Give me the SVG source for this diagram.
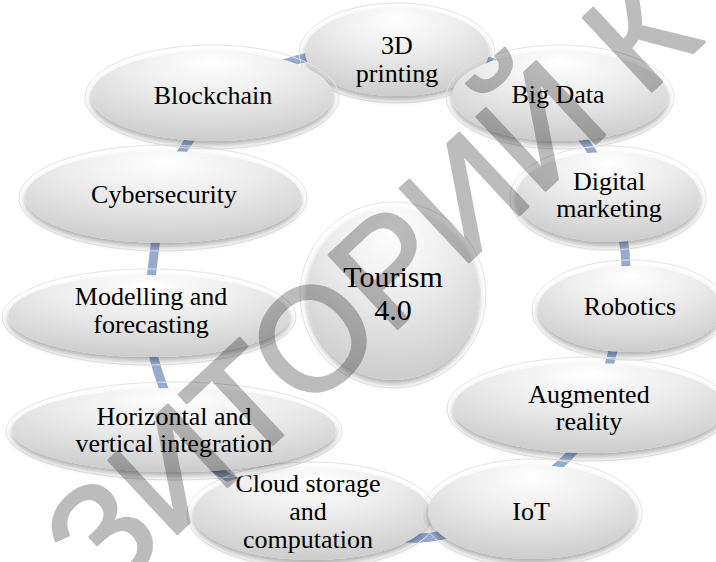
<svg xmlns="http://www.w3.org/2000/svg" width="716" height="562" viewBox="0 0 716 562">
<defs>
<radialGradient id="g" cx="50%" cy="22%" r="80%" fx="50%" fy="12%">
<stop offset="0" stop-color="#ffffff"/>
<stop offset="0.45" stop-color="#ececec"/>
<stop offset="1" stop-color="#cbcbcb"/>
</radialGradient>
<filter id="sh" x="-10%" y="-15%" width="120%" height="140%">
<feDropShadow dx="0" dy="4" stdDeviation="3" flood-color="#000" flood-opacity="0.32"/>
</filter>
</defs>
<style>
.b{fill:url(#g);filter:url(#sh)}
.h{fill:none;stroke:#e4e4e4;stroke-width:1}
.ring{fill:none;stroke:#95abd0;stroke-width:9}
</style>
<rect width="716" height="562" fill="#fff"/>
<g id="connectors">
<path class="ring" d="M296,60 C346.3,46 439.3,46.7 488,61 C536.7,75.3 565.2,114.2 588,146 C610.8,177.8 621.2,216.7 625,252 C628.8,287.3 620.8,323.5 611,358 C601.2,392.5 597.7,429 566,459 C534.3,489 477.7,535.2 421,538 C364.3,540.8 269.8,503.7 226,476 C182.2,448.3 170.2,407.7 158,372 C145.8,336.3 148.3,299.8 153,262 C157.7,224.2 162.2,178.7 186,145 C209.8,111.3 245.7,74 296,60 Z"/>
</g>
<g font-family="Liberation Serif, Times New Roman, serif" font-size="26" fill="#000" text-anchor="middle">
<g id="n-3d">
<ellipse class="h" cx="397" cy="53" rx="98" ry="50"/>
<ellipse class="b" cx="397" cy="52" rx="92" ry="44"/>
<text x="397" y="54">3D</text>
<text x="397" y="82">printing</text>
</g>
<g id="n-bigdata">
<ellipse class="h" cx="560" cy="97" rx="114" ry="52"/>
<ellipse class="b" cx="560" cy="96" rx="108" ry="45"/>
<text x="558" y="103">Big Data</text>
</g>
<g id="n-digital">
<ellipse class="h" cx="608" cy="198" rx="98" ry="52"/>
<ellipse class="b" cx="608" cy="197" rx="92" ry="45"/>
<text x="609" y="190">Digital</text>
<text x="609" y="217">marketing</text>
</g>
<g id="n-robotics">
<ellipse class="h" cx="630" cy="310" rx="98" ry="50"/>
<ellipse class="b" cx="630" cy="309" rx="92" ry="43"/>
<text x="630" y="315">Robotics</text>
</g>
<g id="n-ar">
<ellipse class="h" cx="589" cy="409" rx="142" ry="52"/>
<ellipse class="b" cx="589" cy="408" rx="136" ry="45"/>
<text x="589" y="403">Augmented</text>
<text x="589" y="430">reality</text>
</g>
<g id="n-cloud">
<ellipse class="h" cx="312" cy="515" rx="125" ry="53"/>
<ellipse class="b" cx="312" cy="514" rx="119" ry="46"/>
<text x="308" y="492">Cloud storage</text>
<text x="308" y="520">and</text>
<text x="308" y="548">computation</text>
</g>
<g id="n-iot">
<ellipse class="h" cx="532" cy="513" rx="110" ry="54"/>
<ellipse class="b" cx="532" cy="512" rx="104" ry="47"/>
<text x="531" y="520">IoT</text>
</g>
<g id="n-horizontal">
<ellipse class="h" cx="174" cy="431" rx="168" ry="49"/>
<ellipse class="b" cx="174" cy="430" rx="162" ry="42"/>
<text x="174" y="425">Horizontal and</text>
<text x="174" y="452">vertical integration</text>
</g>
<g id="n-modelling">
<ellipse class="h" cx="149" cy="317" rx="147" ry="48"/>
<ellipse class="b" cx="149" cy="316" rx="141" ry="41"/>
<text x="151" y="305">Modelling and</text>
<text x="151" y="333">forecasting</text>
</g>
<g id="n-cyber">
<ellipse class="h" cx="163" cy="198" rx="144" ry="53"/>
<ellipse class="b" cx="163" cy="197" rx="138" ry="46"/>
<text x="164" y="203">Cybersecurity</text>
</g>
<g id="n-blockchain">
<ellipse class="h" cx="212" cy="97" rx="127" ry="52"/>
<ellipse class="b" cx="212" cy="96" rx="121" ry="45"/>
<text x="213" y="104">Blockchain</text>
</g>
<g id="n-center">
<circle class="h" cx="393" cy="295" r="93"/>
<circle class="b" cx="393" cy="294" r="86"/>
<text x="393" y="287" font-size="30">Tourism</text>
<text x="393" y="320" font-size="30">4.0</text>
</g>
</g>
<g id="watermark" opacity="0.26">
<text transform="translate(104,602) rotate(-43)" font-family="Liberation Sans, Arial, sans-serif" font-size="146" fill="#000" stroke="#000" stroke-width="3" stroke-linejoin="round">ЗИТОРИЙ К</text>
</g>
</svg>
